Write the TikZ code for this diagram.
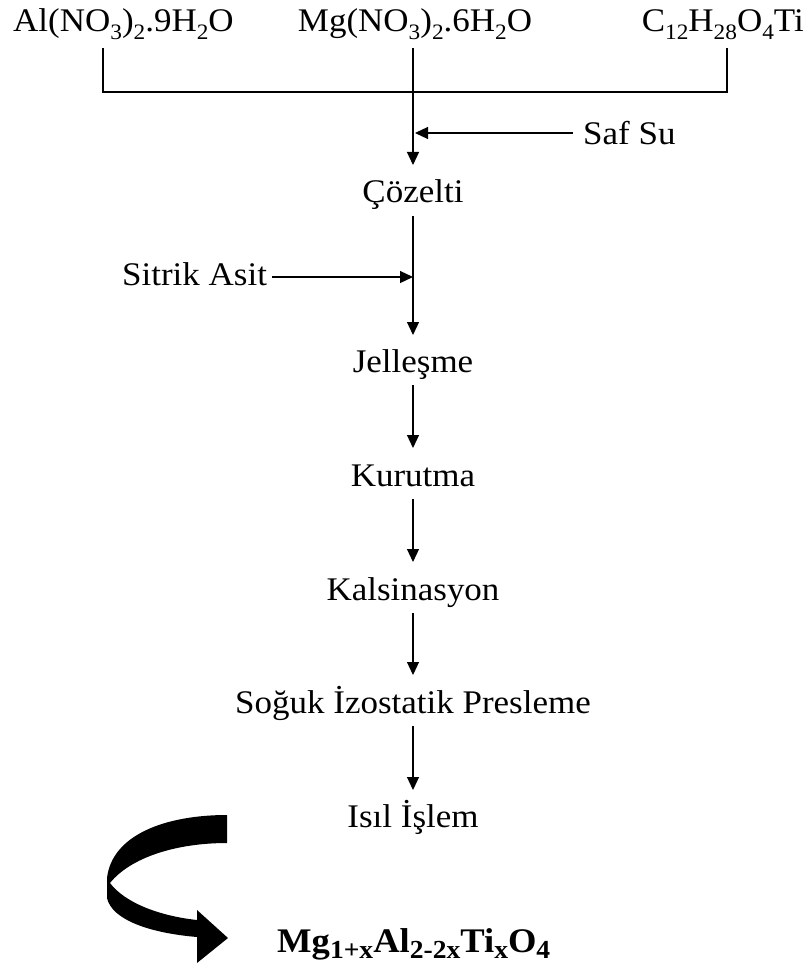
\documentclass[tikz,border=0pt]{standalone}
\usepackage{fontspec}
\setmainfont[FakeStretch=1.06]{Liberation Serif}
\usetikzlibrary{arrows.meta}

% chemical subscript in text font
\newcommand{\chsb}[1]{\raisebox{-0.22em}{\fontsize{22}{22}\selectfont #1}}
\newcommand{\chsbb}[1]{\raisebox{-0.2em}{\fontsize{26}{26}\selectfont\bfseries #1}}

\tikzset{
  lbl/.style={inner sep=0pt, font=\fontsize{33}{38}\selectfont},
  prod/.style={inner sep=0pt, font=\fontsize{34.5}{40}\selectfont\bfseries},
  link/.style={line width=1.2pt, draw=black},
  flow/.style={link, -{Triangle[length=13pt,width=12pt]}},
}

\begin{document}
\begin{tikzpicture}[x=1pt,y=-1pt]
\useasboundingbox (0,0) rectangle (811,968);

% starting chemicals
\node[lbl, anchor=base west] (al) at (13,32) {Al(NO\chsb{3})\chsb{2}.9H\chsb{2}O};
\node[lbl, anchor=base] (mg) at (415,32) {Mg(NO\chsb{3})\chsb{2}.6H\chsb{2}O};
\node[lbl, anchor=base east] (ti) at (804,32) {C\chsb{12}H\chsb{28}O\chsb{4}Ti};

% process steps
\node[lbl, anchor=base] (coz) at (413,203) {Çözelti};
\node[lbl, anchor=base west] (saf) at (583,145) {Saf Su};
\node[lbl, anchor=base west] (sit) at (122,285) {Sitrik Asit};
\node[lbl, anchor=base] (jel) at (413,372) {Jelleşme};
\node[lbl, anchor=base] (kur) at (413,486) {Kurutma};
\node[lbl, anchor=base] (kal) at (413,600) {Kalsinasyon};
\node[lbl, anchor=base] (sip) at (413,713) {Soğuk İzostatik Presleme};
\node[lbl, anchor=base] (isl) at (413,827) {Isıl İşlem};
\node[prod, anchor=base west] (mat) at (277,952)
  {Mg\chsbb{1+x}Al\chsbb{2-2x}Ti\chsbb{x}O\chsbb{4}};

% junctions of the mixing bracket
\coordinate (tl) at (103,48);
\coordinate (tr) at (727,48);
\coordinate (jl) at (103,92);
\coordinate (jr) at (727,92);
\coordinate (tm) at (413,48);
\coordinate (wsu) at (413,133);
\coordinate (wca) at (413,277);

\draw[link] (tl) -- (jl) -- (jr) -- (tr);
\draw[flow] (tm) -- ([yshift=38pt]coz.base);
\draw[flow] ([xshift=-10pt,yshift=12pt]saf.base west) -- ([xshift=2pt]wsu);
\draw[flow] ([xshift=5pt,yshift=8pt]sit.base east) -- (wca);
\draw[flow] ([yshift=-13pt]coz.base) -- ([yshift=37pt]jel.base);
\draw[flow] ([yshift=-13pt]jel.base) -- ([yshift=38pt]kur.base);
\draw[flow] ([yshift=-13pt]kur.base) -- ([yshift=38pt]kal.base);
\draw[flow] ([yshift=-13pt]kal.base) -- ([yshift=38pt]sip.base);
\draw[flow] ([yshift=-13pt]sip.base) -- ([yshift=37pt]isl.base);

% curved ribbon arrow pointing to the product
\fill[black] (227,815) -- (227,843)
  .. controls (175,843) and (130,858) .. (110,883)
  .. controls (125,903) and (160,916) .. (197,920)
  -- (197,910) -- (228,938) -- (197,963) -- (197,937)
  .. controls (150,933) and (112,920) .. (107,898)
  -- (107,878)
  .. controls (112,835) and (165,815) .. (227,815) -- cycle;
\end{tikzpicture}
\end{document}
